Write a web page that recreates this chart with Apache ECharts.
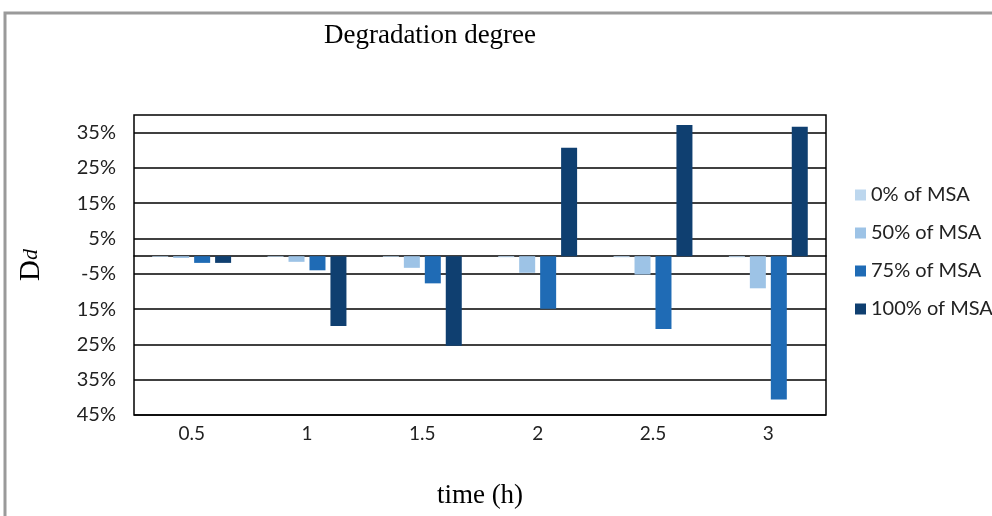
<!DOCTYPE html>
<html>
<head>
<meta charset="utf-8">
<style>html,body{margin:0;padding:0;background:#fff;}#chart{width:992px;height:516px;}</style>
<script src="https://cdn.jsdelivr.net/npm/echarts@6/dist/echarts.min.js"></script>
</head>
<body>
<div id="chart"></div>
<script>
var categories = ['0.5', '1', '1.5', '2', '2.5', '3'];
var seriesNames = ['0% of MSA', '50% of MSA', '75% of MSA', '100% of MSA'];
var msa0 = [-0.2, -0.2, -0.2, -0.3, -0.3, -0.3];
var msa50 = [-0.5, -1.6, -3.3, -4.7, -5.2, -9.1];
var msa75 = [-1.9, -4.0, -7.7, -14.9, -20.6, -40.6];
var msa100 = [-1.9, -19.8, -25.4, 30.7, 37.2, 36.7];
var colors = ['#BDD7EE', '#9DC3E6', '#1F6BB5', '#0F3F70'];

var chart = echarts.init(document.getElementById('chart'));
var data = [msa0, msa50, msa75, msa100];
var series = data.map(function (d, i) {
  return {
    name: seriesNames[i], type: 'bar', data: d, xAxisIndex: 0,
    barWidth: 16, barGap: '31%',
    itemStyle: { color: colors[i] }
  };
});
chart.setOption({
  animation: false,
  title: {
    text: 'Degradation degree', left: 425, top: 17, textAlign: 'center',
    textStyle: { fontFamily: 'Liberation Serif', fontWeight: 'normal', fontSize: 27, color: '#000' }
  },
  legend: {
    orient: 'vertical', left: 850, top: 180, itemGap: 18,
    itemWidth: 11, itemHeight: 11, icon: 'rect',
    textStyle: { fontFamily: 'Lato', fontSize: 20, color: '#222' },
    data: seriesNames
  },
  grid: {
    left: 134, right: 166, top: 115, bottom: 101, show: true,
    borderColor: '#000', borderWidth: 1.5, containLabel: false
  },
  xAxis: [{
    type: 'category', data: categories, position: 'bottom',
    axisLine: { show: false, onZero: false }, axisTick: { show: false },
    axisLabel: { fontFamily: 'Lato', fontSize: 19, color: '#222', margin: 9 },
    name: 'time (h)', nameLocation: 'middle', nameGap: 67,
    nameTextStyle: { fontFamily: 'Liberation Serif', fontSize: 27, color: '#000' }
  }, {
    type: 'category', data: categories, position: 'top',
    axisLine: { show: true, onZero: true, lineStyle: { color: '#000', width: 1.5 } },
    axisTick: { show: false }, axisLabel: { show: false }
  }],
  yAxis: {
    type: 'value', min: -45, max: 40, interval: 5,
    axisLine: { show: false }, axisTick: { show: false },
    axisLabel: {
      fontFamily: 'Lato', fontSize: 20, color: '#222', margin: 18,
      formatter: function (v) {
        if (v % 10 === 0) return '';
        return (v === -5 ? '-5' : Math.abs(v)) + '%';
      }
    },
    splitLine: { show: true, lineStyle: { color: ['#000', 'rgba(0,0,0,0)'], width: 1.5 } },
    name: '{a|D}{b|d}', nameLocation: 'middle', nameGap: 88, nameRotate: 90,
    nameTextStyle: {
      rich: {
        a: { fontFamily: 'Liberation Serif', fontSize: 29, color: '#000' },
        b: { fontFamily: 'Liberation Serif', fontSize: 22, fontStyle: 'italic', color: '#000' }
      }
    }
  },
  graphic: [{
    type: 'rect', silent: true,
    shape: { x: 5, y: 13, width: 1100, height: 700 },
    style: { fill: 'none', stroke: '#9a9a9a', lineWidth: 3 }
  }],
  series: series
});
</script>
</body>
</html>
